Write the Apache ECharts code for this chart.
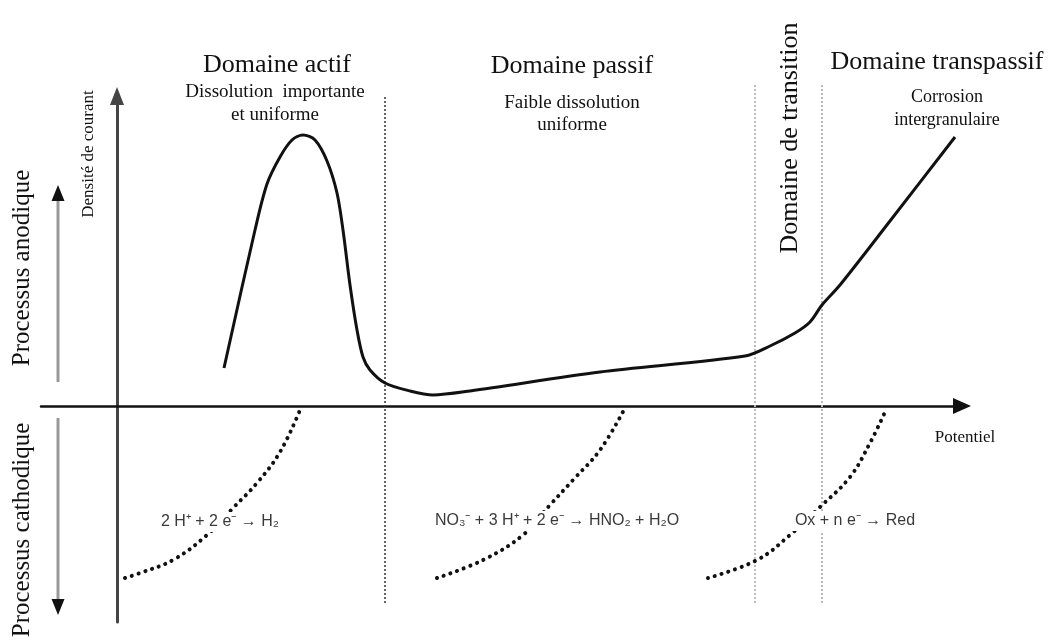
<!DOCTYPE html>
<html>
<head>
<meta charset="utf-8">
<script src="https://cdn.jsdelivr.net/npm/echarts@6/dist/echarts.min.js"></script>
<style>
html, body { margin: 0; padding: 0; background: #fff; }
#main { width: 1051px; height: 641px; }
</style>
</head>
<body>
<div id="main"></div>
<script>
// courbe anodique : potentiel / densité de courant (unités arbitraires)
var anodeE = [107, 138, 150, 163, 175, 186, 198, 210, 220, 226, 233, 240, 246, 253, 268, 293, 316, 353, 483, 628, 653, 678, 693, 705, 723, 773, 838];
var anodeI = [38, 176, 222, 249, 266, 271, 266, 245, 213, 176, 121, 76, 49, 36, 23, 15, 11, 15, 34, 50, 60, 73, 84, 101, 121, 185, 269];

// courbes cathodiques (pointillés)
var cath1E = [8, 23, 56, 90, 116, 140, 163, 183];
var cath1I = [-172, -167, -154, -129, -102, -77, -46, -4];
var cath2E = [320, 366, 406, 433, 456, 483, 508];
var cath2I = [-172, -154, -129, -99, -74, -44, -2];
var cath3E = [591, 640, 673, 703, 733, 753, 768];
var cath3I = [-172, -154, -129, -101, -71, -37, -6];

// limites des domaines
var limActif = 268;
var limTransition = [638, 705];

function zip(a, b) {
    return a.map(function (v, i) { return [v, b[i]]; });
}

var serif = 'Liberation Serif';
var sans = 'Liberation Sans';

function txt(x, y, text, size, rot, extra) {
    var s = {
        text: text,
        font: size + 'px "' + serif + '"',
        fill: '#111',
        textAlign: 'center',
        textVerticalAlign: 'middle'
    };
    if (extra) { for (var k in extra) s[k] = extra[k]; }
    return { type: 'text', x: x, y: y, rotation: rot || 0, z: 100, style: s };
}

function reaction(x, y, text) {
    return {
        type: 'text', x: x, y: y, z: 100,
        style: {
            text: text,
            font: '16px "' + sans + '"',
            fill: '#3a3a3a',
            textAlign: 'center',
            textVerticalAlign: 'middle',
            backgroundColor: '#fff',
            padding: [2, 3]
        }
    };
}

function dotted(data) {
    return {
        type: 'line', data: data, smooth: 0.4, showSymbol: false, silent: true,
        lineStyle: { color: '#111', width: 4, type: [0.1, 7], cap: 'round' }
    };
}

function vline(x, top, color, width) {
    return {
        type: 'line', data: [[x, top], [x, -199]], showSymbol: false, silent: true, clip: false,
        lineStyle: { color: color, width: width, type: [2, 2] }
    };
}

var option = {
    backgroundColor: '#fff',
    animation: false,
    grid: { left: 41, right: 89, top: 96, bottom: 19 },
    xAxis: {
        type: 'value', min: -76, max: 845,
        splitLine: { show: false }, axisTick: { show: false }, axisLabel: { show: false },
        axisLine: { onZero: true, symbol: ['none', 'triangle'], symbolSize: [16, 18], lineStyle: { color: '#111', width: 2.5 } }
    },
    yAxis: {
        type: 'value', min: -216, max: 310,
        splitLine: { show: false }, axisTick: { show: false }, axisLabel: { show: false },
        axisLine: { onZero: true, symbol: ['none', 'triangle'], symbolSize: [14, 18], lineStyle: { color: '#444', width: 3 } }
    },
    series: [
        vline(limActif, 309, '#333', 1.5),
        vline(limTransition[0], 321, '#bbb', 2),
        vline(limTransition[1], 321, '#bbb', 2),
        {
            type: 'line', data: zip(anodeE, anodeI), smooth: 0.3,
            showSymbol: false, silent: true, z: 5,
            lineStyle: { color: '#111', width: 3 }
        },
        dotted(zip(cath1E, cath1I)),
        dotted(zip(cath2E, cath2I)),
        dotted(zip(cath3E, cath3I)),
        // flèches processus anodique / cathodique
        {
            type: 'line', silent: true, clip: false, symbol: 'none',
            lineStyle: { color: '#999', width: 3 },
            data: [
                { value: [-59, 24] },
                { value: [-59, 213], symbol: 'triangle', symbolSize: [13, 16], itemStyle: { color: '#111' } }
            ]
        },
        {
            type: 'line', silent: true, clip: false, symbol: 'none',
            lineStyle: { color: '#999', width: 3 },
            data: [
                { value: [-59, -12] },
                { value: [-59, -201], symbol: 'triangle', symbolRotate: 180, symbolSize: [13, 16], itemStyle: { color: '#111' } }
            ]
        }
    ],
    graphic: [
        txt(277, 65, 'Domaine actif', 26),
        txt(275, 92, 'Dissolution  importante', 19),
        txt(275, 115, 'et uniforme', 19),
        txt(572, 66, 'Domaine passif', 26),
        txt(572, 103, 'Faible dissolution', 19),
        txt(572, 125, 'uniforme', 19),
        txt(937, 62, 'Domaine transpassif', 26),
        txt(947, 97, 'Corrosion', 18),
        txt(947, 120, 'intergranulaire', 18),
        txt(790, 138, 'Domaine de transition', 26, Math.PI / 2, { backgroundColor: '#fff', padding: [0, 2] }),
        txt(22, 268, 'Processus anodique', 25, Math.PI / 2),
        txt(22, 530, 'Processus cathodique', 25, Math.PI / 2),
        txt(89, 154, 'Densité de courant', 17, Math.PI / 2),
        txt(965, 438, 'Potentiel', 17),
        reaction(220, 522, '2 H⁺ + 2 e⁻ → H₂'),
        reaction(557, 521, 'NO₃⁻ + 3 H⁺ + 2 e⁻ → HNO₂ + H₂O'),
        reaction(855, 521, 'Ox + n e⁻ → Red')
    ]
};

var myChart = echarts.init(document.getElementById('main'));
myChart.setOption(option);
</script>
</body>
</html>
